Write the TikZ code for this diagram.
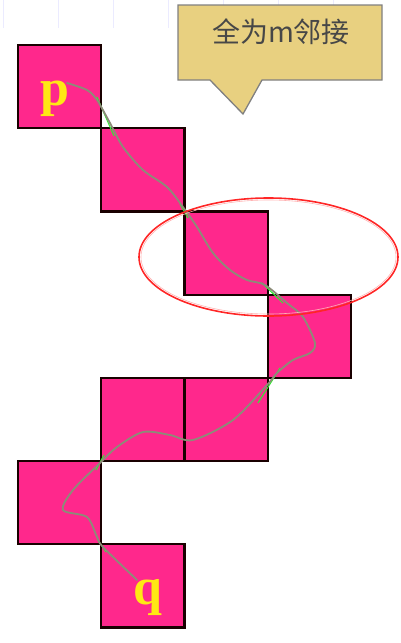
\documentclass[tikz,border=0pt]{standalone}
\usepackage{fontspec}
\setmainfont{Liberation Serif}
\newfontfamily\cjk{Noto Sans CJK SC}
\usetikzlibrary{arrows,positioning}

\definecolor{cellpink}{RGB}{255,40,140}
\definecolor{tagfill}{RGB}{232,208,128}
\definecolor{pathgray}{RGB}{140,140,120}
\definecolor{letteryellow}{RGB}{255,232,20}

\begin{document}
\begin{tikzpicture}[x=1pt,y=-1pt,>=latex]

\useasboundingbox (0,0) rectangle (400,643);

% faint lines at the top
\foreach \gx in {3,58,113,168,223,278,333}
	\draw[color=blue!8,line width=0.8pt] (\gx,0)--(\gx,28);

% the pixels
\def\s{83.2}
\foreach \c/\r in {0/0,1/1,2/2,3/3,1/4,2/4,0/5,1/6}
	\filldraw[fill=cellpink,draw=black!90!red,line width=2.2pt]
		({18+\c*\s},{45+\r*\s}) rectangle ({18+(\c+1)*\s},{45+(\r+1)*\s});

% green m-links at the corners
\draw[color=green!90!black!80,line width=1.1pt] (97,97)--(114,136);
\draw[color=green!90!black!80,line width=1.1pt] (180,204)--(188,218);
\draw[color=green!90!black!80,line width=1.1pt] (262,283)--(283,303);
\draw[color=green!90!black!80,line width=1.1pt] (280,368)--(258,403);
\draw[color=green!90!black!80,line width=1.1pt] (104,455)--(96,470);
\draw[color=green!90!black!80,line width=1.1pt] (98,540)--(106,552);

% the labels
\node[font=\bfseries\fontsize{52}{52}\selectfont,color=letteryellow] (p) at (55,99) {p};
\node[font=\bfseries\fontsize{52}{52}\selectfont,color=letteryellow] (q) at (148,598) {q};

\coordinate (pstart) at (67,83);
\coordinate (qend) at (137,580);

% hand drawn path from p to q
\draw[color=pathgray,line width=1.8pt,line cap=round,line join=round]
	plot[smooth,tension=0.5] coordinates {(pstart) (87,90) (97,100) (110,123) (123,147)
		(143,170) (167,187) (183,207) (197,227) (213,253) (230,270) (247,280)
		(265,285) (287,303) (303,317) (315,343) (310,353) (293,360) (277,373)
		(267,385) (233,420) (193,440) (170,435) (143,432) (117,447) (100,463)
		(73,490) (63,510) (87,517) (97,537) (103,547) (qend)};

% red ring
\draw[color=red!85,line width=1.6pt] (268.5,257) ellipse[x radius=129.5,y radius=59];
\draw[color=red!30,line width=0.6pt] (268.5,257) ellipse[x radius=127.5,y radius=57];

% the callout
\filldraw[fill=tagfill,draw=black!50,line width=1.3pt]
	(178,5)--(382,5)--(382,80)--(262,80)--(243,114)--(210,80)--(178,80)--cycle;
\node[font=\cjk\fontsize{28}{28}\selectfont,color=black!72] (tag) at (281,32) {全为m邻接};

\end{tikzpicture}
\end{document}
